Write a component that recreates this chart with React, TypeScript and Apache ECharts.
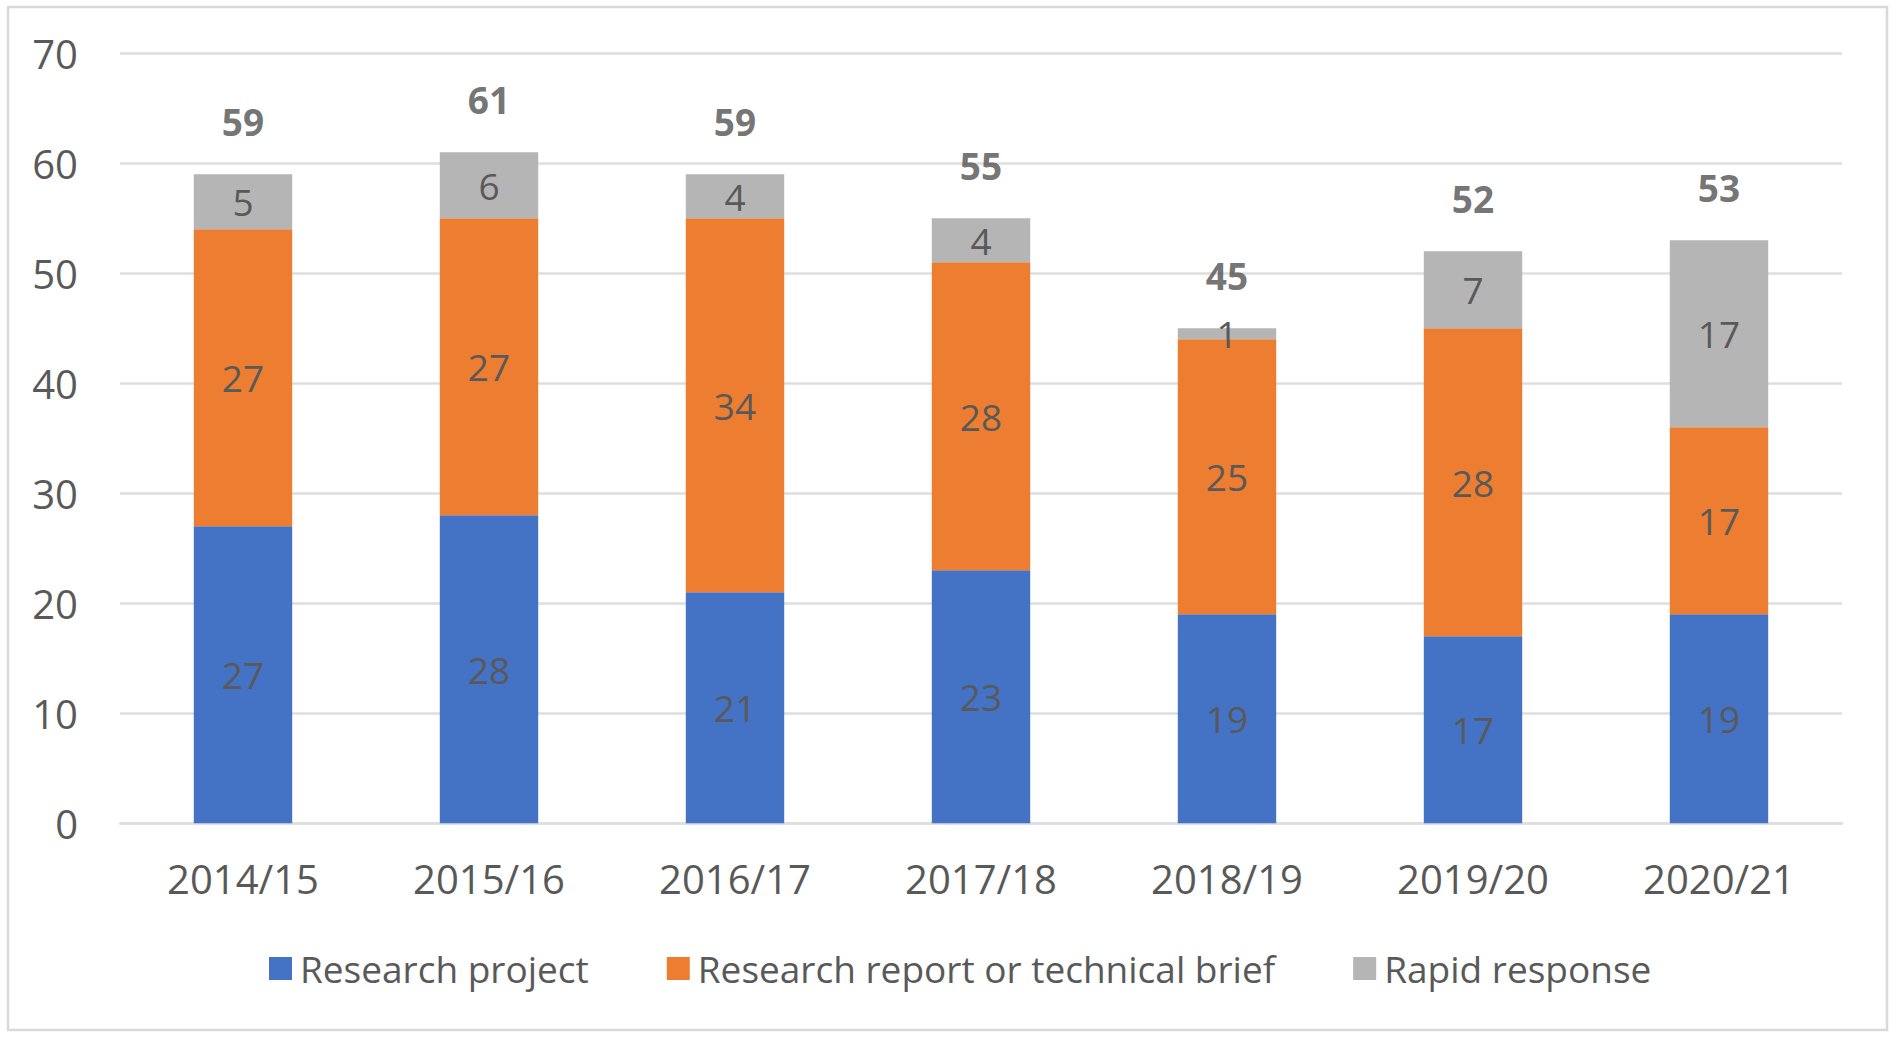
import React, { useEffect, useRef } from "react";
import * as echarts from "echarts";

const categories = ["2014/15", "2015/16", "2016/17", "2017/18", "2018/19", "2019/20", "2020/21"];
const researchProject = [27, 28, 21, 23, 19, 17, 19];
const researchReport = [27, 27, 34, 28, 25, 28, 17];
const rapidResponse = [5, 6, 4, 4, 1, 7, 17];
const yTicks = { min: 0, max: 70, interval: 10 };

const seriesNames = ["Research project", "Research report or technical brief", "Rapid response"];
const colors = ["#4472C4", "#ED7D31", "#B5B5B5"];

const FONT = "'Open Sans', 'Noto Sans', sans-serif";
const TEXT = "#595959";

export default function App() {
  const ref = useRef<HTMLDivElement>(null);

  useEffect(() => {
    if (!ref.current) return;
    const chart = echarts.init(ref.current, undefined, { renderer: "svg" });
    const totals = categories.map((_, i) => researchProject[i] + researchReport[i] + rapidResponse[i]);

    const innerLabel = {
      show: true,
      position: "inside",
      color: TEXT,
      fontFamily: FONT,
      fontSize: 37,
      lineHeight: 37,
    };

    const makeBar = (name: string, data: number[], color: string) => ({
      name,
      type: "bar",
      stack: "total",
      barWidth: "40%",
      data,
      itemStyle: { color },
      label: innerLabel,
    });

    chart.setOption({
      animation: false,
      textStyle: { fontFamily: FONT },
      grid: { left: 120, right: 55, top: 53.3, bottom: 217.7, containLabel: false },
      graphic: [
        {
          type: "rect",
          shape: { x: 8, y: 7, width: 1879, height: 1023 },
          style: { fill: "none", stroke: "#D9D9D9", lineWidth: 2.5 },
          silent: true,
        },
      ],
      legend: {
        data: seriesNames,
        left: 269,
        top: 950,
        padding: 0,
        icon: "rect",
        itemWidth: 23,
        itemHeight: 23,
        itemGap: 78,
        textStyle: {
          color: TEXT,
          fontFamily: FONT,
          fontSize: 37,
          lineHeight: 37,
          padding: [0, 0, 0, 3],
        },
      },
      xAxis: {
        type: "category",
        data: categories,
        axisLine: { show: true, lineStyle: { color: "#DEDEDE", width: 2.5 } },
        axisTick: { show: false },
        axisLabel: {
          color: TEXT,
          fontFamily: FONT,
          fontSize: 40,
          lineHeight: 40,
          margin: 35,
        },
      },
      yAxis: {
        type: "value",
        min: yTicks.min,
        max: yTicks.max,
        interval: yTicks.interval,
        axisLine: { show: false },
        axisTick: { show: false },
        splitLine: { lineStyle: { color: "#DEDEDE", width: 2.5 } },
        axisLabel: {
          color: TEXT,
          fontFamily: FONT,
          fontSize: 40,
          margin: 42,
        },
      },
      series: [
        makeBar(seriesNames[0], researchProject, colors[0]),
        makeBar(seriesNames[1], researchReport, colors[1]),
        makeBar(seriesNames[2], rapidResponse, colors[2]),
        {
          name: "Total",
          type: "scatter",
          data: totals,
          symbol: "circle",
          symbolSize: 1,
          itemStyle: { color: "rgba(0,0,0,0)" },
          label: {
            show: true,
            position: "top",
            distance: 34,
            color: "#505050",
            fontFamily: FONT,
            fontWeight: "bold",
            fontSize: 37,
            lineHeight: 37,
          },
          z: 5,
        },
      ],
    });

    return () => chart.dispose();
  }, []);

  return (
    <div
      ref={ref}
      style={{ position: "absolute", left: 0, top: 0, width: 1897, height: 1041, background: "#fff" }}
    />
  );
}
